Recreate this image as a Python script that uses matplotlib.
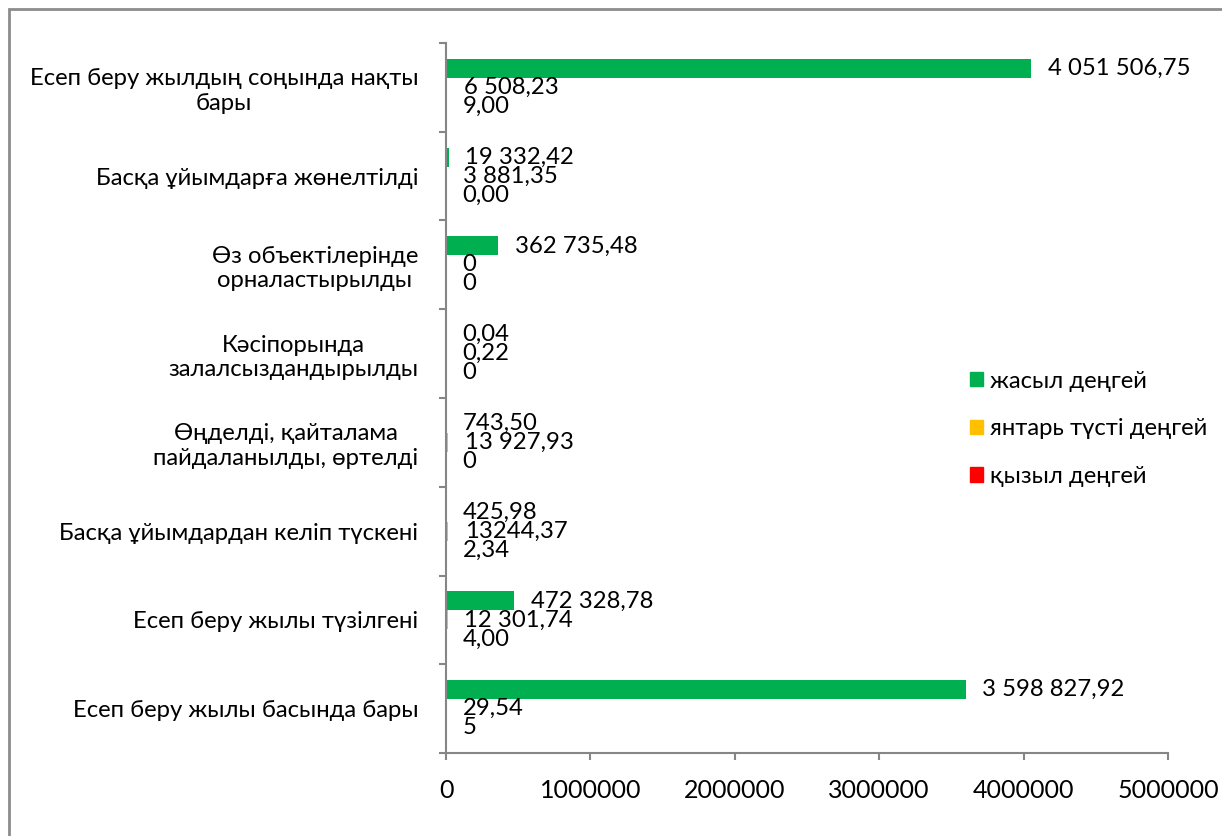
import matplotlib
matplotlib.use("Agg")
import matplotlib.pyplot as plt
import numpy as np
from matplotlib.patches import Patch, Rectangle

plt.rcParams["font.family"] = ["Lato", "Noto Sans", "DejaVu Sans"]

categories = [
    "Есеп беру жылы басында бары",
    "Есеп беру жылы түзілгені",
    "Басқа ұйымдардан келіп түскені",
    "Өңделді, қайталама\nпайдаланылды, өртелді",
    "Кәсіпорында\nзалалсыздандырылды",
    "Өз объектілерінде\nорналастырылды",
    "Басқа ұйымдарға жөнелтілді",
    "Есеп беру жылдың соңында нақты\nбары",
]

green = [3598827.92, 472328.78, 425.98, 743.50, 0.04, 362735.48, 19332.42, 4051506.75]
amber = [29.54, 12301.74, 13244.37, 13927.93, 0.22, 0, 3881.35, 6508.23]
red = [5, 4.00, 2.34, 0, 0, 0, 0.00, 9.00]

green_text = ["3 598 827,92", "472 328,78", "425,98", "743,50", "0,04",
              "362 735,48", "19 332,42", "4 051 506,75"]
amber_text = ["29,54", "12 301,74", "13244,37", "13 927,93", "0,22",
              "0", "3 881,35", "6 508,23"]
red_text = ["5", "4,00", "2,34", "0", "0", "0", "0,00", "9,00"]

series = [
    ("жасыл деңгей", green, green_text, "#00B050"),
    ("янтарь түсті деңгей", amber, amber_text, "#FFC000"),
    ("қызыл деңгей", red, red_text, "#FF0000"),
]

W, H = 1222, 836
fig = plt.figure(figsize=(W / 100, H / 100), dpi=100)
ax = fig.add_axes([446 / W, 1 - 753 / H, (1168 - 446) / W, (753 - 43) / H])

y = np.arange(len(categories))
bh = 0.214
fs = 17.2
for i, (name, vals, texts, color) in enumerate(series):
    pos = y + bh * (1 - i)
    ax.barh(pos, vals, height=bh, color=color, label=name)
    for p, v, t in zip(pos, vals, texts):
        ax.annotate(t, (v, p), xytext=(12, 0), textcoords="offset points",
                    va="center", ha="left", fontsize=fs)

ax.set_xlim(0, 5000000)
ax.set_ylim(-0.5, len(categories) - 0.5)
ax.set_xticks(np.arange(0, 5000001, 1000000))
ax.set_xticklabels([str(v) for v in range(0, 5000001, 1000000)], fontsize=18)
ax.set_yticks(y)
ax.set_yticklabels(categories, fontsize=fs, multialignment="center")
ax.set_yticks(np.arange(-0.5, len(categories), 1), minor=True)
ax.tick_params(axis="y", which="major", length=0, pad=20)
ax.tick_params(axis="y", which="minor", length=5, color="#868686", width=1.5)
ax.tick_params(axis="x", length=5, color="#868686", width=1.5, pad=14)

for s in ["top", "right"]:
    ax.spines[s].set_visible(False)
for s in ["left", "bottom"]:
    ax.spines[s].set_color("#868686")
    ax.spines[s].set_linewidth(1.5)

handles = [Patch(color=c) for _, _, _, c in series]
fig.legend(handles, [s[0] for s in series], loc="upper left",
           bbox_to_anchor=(948 / W, 1 - 349 / H), frameon=False,
           fontsize=fs, handlelength=0.55, handleheight=0.55,
           handletextpad=0.3, labelspacing=1.12)

fig.patches.append(Rectangle((9 / W, -0.1), 1.2, 1.1 - 9 / H,
                             transform=fig.transFigure, fill=False,
                             edgecolor="#8c8c8c", linewidth=2))

fig.savefig("out.png", dpi=100)
